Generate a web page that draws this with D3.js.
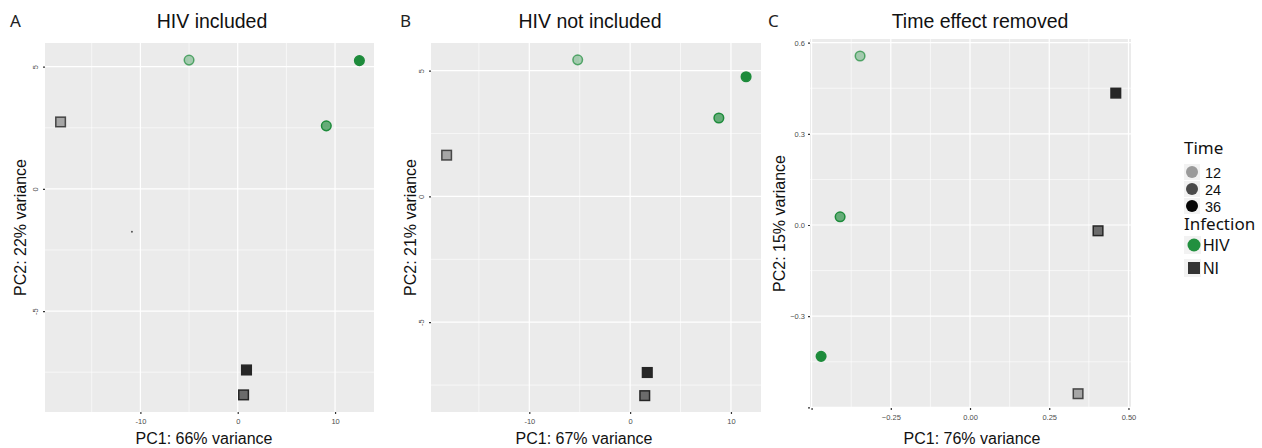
<!DOCTYPE html>
<html>
<head>
<meta charset="utf-8">
<script src="https://cdn.jsdelivr.net/npm/d3@7"></script>
<style>
  body { margin: 0; background: #fff; }
  svg { display: block; }
</style>
</head>
<body>
<div id="chart"></div>
<script>
// samples: HIV 12/24/36 h, NI 12/24/36 h
const sampleTime = [12, 24, 36, 12, 24, 36];
const sampleInfection = ["HIV", "HIV", "HIV", "NI", "NI", "NI"];

const timeLevels = ["12", "24", "36"];
const infectionLevels = ["HIV", "NI"];

// panel A - HIV included
const pcaA_pc1 = [-5.0, 9.1, 12.5, -18.2, 0.6, 0.9];
const pcaA_pc2 = [5.27, 2.58, 5.25, 2.74, -8.43, -7.41];
const strayA = [[-10.87, -1.75]];

// panel B - HIV not included
const pcaB_pc1 = [-5.2, 8.8, 11.5, -18.2, 1.45, 1.7];
const pcaB_pc2 = [5.43, 3.12, 4.76, 1.64, -7.92, -7.0];

// panel C - time effect removed
const pcaC_pc1 = [-0.347, -0.41, -0.47, 0.341, 0.404, 0.46];
const pcaC_pc2 = [0.556, 0.027, -0.432, -0.555, -0.019, 0.434];

const HIV_GREEN = "#1d8b3b";
const NI_GREY = "#262626";
const timeAlpha = { 12: 0.35, 24: 0.65, 36: 1 };

const width = 1262, height = 448;

const svg = d3.select("#chart").append("svg")
  .attr("width", width)
  .attr("height", height);

const panels = [
  {
    letter: "A", title: "HIV included", pc1: pcaA_pc1, pc2: pcaA_pc2, stray: strayA,
    xDomain: [-19.8, 14.0], yDomain: [-9.13, 5.97],
    x0: 45, x1: 374, y0: 43, y1: 412,
    xMajor: [-10, 0, 10], xMinor: [-15, -5, 5],
    yMajor: [-5, 0, 5], yMinor: [-7.5, -2.5, 2.5],
    xFmt: (d) => String(d), yFmt: (d) => String(d), yRotate: true,
    xLabel: "PC1: 66% variance", yLabel: "PC2: 22% variance",
    letterX: 10, titleX: 212, xLabelX: 204, yLabelX: 20
  },
  {
    letter: "B", title: "HIV not included", pc1: pcaB_pc1, pc2: pcaB_pc2, stray: [],
    xDomain: [-19.75, 12.98], yDomain: [-8.57, 6.1],
    x0: 431, x1: 761, y0: 43, y1: 412,
    xMajor: [-10, 0, 10], xMinor: [-15, -5, 5],
    yMajor: [-5, 0, 5], yMinor: [-7.5, -2.5, 2.5],
    xFmt: (d) => String(d), yFmt: (d) => String(d), yRotate: true,
    xLabel: "PC1: 67% variance", yLabel: "PC2: 21% variance",
    letterX: 400, titleX: 590, xLabelX: 584, yLabelX: 410
  },
  {
    letter: "C", title: "Time effect removed", pc1: pcaC_pc1, pc2: pcaC_pc2, stray: [],
    xDomain: [-0.505, 0.508], yDomain: [-0.602, 0.612],
    x0: 810, x1: 1131, y0: 39, y1: 408,
    xMajor: [-0.5, -0.25, 0, 0.25, 0.5], xMinor: [-0.375, -0.125, 0.125, 0.375],
    yMajor: [-0.6, -0.3, 0, 0.3, 0.6], yMinor: [-0.45, -0.15, 0.15, 0.45],
    xFmt: (d) => (d === -0.5 ? "" : d3.format(".2f")(d).replace("-", "\u2212")),
    yFmt: (d) => (d === -0.6 ? "" : d3.format(".1f")(d).replace("-", "\u2212")),
    yRotate: false,
    xLabel: "PC1: 76% variance", yLabel: "PC2: 15% variance",
    letterX: 768, titleX: 980, xLabelX: 972, yLabelX: 779
  }
];

panels.forEach(drawPanel);
drawLegend();

function drawPanel(p) {
  const x = d3.scaleLinear().domain(p.xDomain).range([p.x0, p.x1]);
  const y = d3.scaleLinear().domain(p.yDomain).range([p.y1, p.y0]);
  const g = svg.append("g");

  // panel background
  g.append("rect")
    .attr("x", p.x0).attr("y", p.y0)
    .attr("width", p.x1 - p.x0).attr("height", p.y1 - p.y0)
    .attr("fill", "#ebebeb");

  // gridlines
  const grid = g.append("g").attr("stroke", "#fff");
  grid.selectAll(".vminor").data(p.xMinor).join("line")
    .attr("x1", (d) => x(d)).attr("x2", (d) => x(d))
    .attr("y1", p.y0).attr("y2", p.y1).attr("stroke-width", 0.6);
  grid.selectAll(".hminor").data(p.yMinor).join("line")
    .attr("y1", (d) => y(d)).attr("y2", (d) => y(d))
    .attr("x1", p.x0).attr("x2", p.x1).attr("stroke-width", 0.6);
  grid.selectAll(".vmajor").data(p.xMajor).join("line")
    .attr("x1", (d) => x(d)).attr("x2", (d) => x(d))
    .attr("y1", p.y0).attr("y2", p.y1).attr("stroke-width", 1.2);
  grid.selectAll(".hmajor").data(p.yMajor).join("line")
    .attr("y1", (d) => y(d)).attr("y2", (d) => y(d))
    .attr("x1", p.x0).attr("x2", p.x1).attr("stroke-width", 1.2);

  // axes
  const xAxis = g.append("g")
    .attr("transform", `translate(0,${p.y1})`)
    .call(d3.axisBottom(x).tickValues(p.xMajor).tickFormat(p.xFmt).tickSize(2).tickPadding(5));
  const yAxis = g.append("g")
    .attr("transform", `translate(${p.x0},0)`)
    .call(d3.axisLeft(y).tickValues(p.yMajor).tickFormat(p.yFmt).tickSize(2).tickPadding(3));

  [xAxis, yAxis].forEach((a) => {
    a.select(".domain").remove();
    a.selectAll(".tick line").attr("stroke", "#333").attr("stroke-width", 1.2);
    a.selectAll("text")
      .attr("fill", "#4d4d4d")
      .attr("font-family", "Liberation Sans, Arial, sans-serif")
      .attr("font-size", 7.5);
  });

  if (p.yRotate) {
    yAxis.selectAll(".tick text")
      .attr("x", null).attr("dy", null)
      .attr("text-anchor", "middle")
      .attr("transform", "translate(-7,0) rotate(-90)");
  }

  // stray mark
  g.selectAll(".stray").data(p.stray).join("circle")
    .attr("cx", (d) => x(d[0])).attr("cy", (d) => y(d[1]))
    .attr("r", 1).attr("fill", "#555");

  // samples
  const samples = p.pc1.map((v, i) => ({
    pc1: v, pc2: p.pc2[i], time: sampleTime[i], infection: sampleInfection[i]
  }));

  const pts = g.append("g");
  samples.forEach((d) => {
    const cx = x(d.pc1), cy = y(d.pc2);
    const a = timeAlpha[d.time];
    if (d.infection === "HIV") {
      pts.append("circle")
        .attr("cx", cx).attr("cy", cy).attr("r", 4.8)
        .attr("fill", HIV_GREEN).attr("fill-opacity", a)
        .attr("stroke", HIV_GREEN).attr("stroke-opacity", Math.min(1, a + 0.35))
        .attr("stroke-width", 1.5);
    } else {
      pts.append("rect")
        .attr("x", cx - 4.8).attr("y", cy - 4.8)
        .attr("width", 9.6).attr("height", 9.6)
        .attr("fill", NI_GREY).attr("fill-opacity", a)
        .attr("stroke", NI_GREY).attr("stroke-opacity", Math.min(1, a + 0.45))
        .attr("stroke-width", 1.5);
    }
  });

  // panel letter + title
  svg.append("text")
    .attr("x", p.letterX).attr("y", 27)
    .attr("font-family", "Noto Sans, sans-serif")
    .attr("font-size", 17).attr("fill", "#222")
    .text(p.letter);
  svg.append("text")
    .attr("x", p.titleX).attr("y", 28)
    .attr("text-anchor", "middle")
    .attr("font-family", "Liberation Sans, Arial, sans-serif")
    .attr("font-size", 19.5).attr("fill", "#111")
    .text(p.title);

  // axis titles
  svg.append("text")
    .attr("x", p.xLabelX).attr("y", 444)
    .attr("text-anchor", "middle")
    .attr("font-family", "Liberation Sans, Arial, sans-serif")
    .attr("font-size", 16).attr("fill", "#111")
    .text(p.xLabel);
  svg.append("text")
    .attr("transform", `translate(${p.yLabelX + 6},${(p.y0 + p.y1) / 2}) rotate(-90)`)
    .attr("text-anchor", "middle")
    .attr("font-family", "Liberation Sans, Arial, sans-serif")
    .attr("font-size", 16).attr("fill", "#111")
    .text(p.yLabel);
}

function drawLegend() {
  const lg = svg.append("g").attr("font-family", "Liberation Sans, Arial, sans-serif");
  const kx = 1192;

  lg.append("text").attr("x", 1184).attr("y", 154)
    .attr("font-family", "Noto Sans, sans-serif")
    .attr("font-size", 17).attr("fill", "#111").text("Time");

  const timeGrey = d3.scaleOrdinal().domain(timeLevels).range(["#9a9a9a", "#4a4a4a", "#050505"]);
  const ty = d3.scalePoint().domain(timeLevels).range([172, 206]);
  timeLevels.forEach((t) => {
    lg.append("rect").attr("x", kx - 8).attr("y", ty(t) - 8).attr("width", 16).attr("height", 16)
      .attr("fill", "#f2f2f2");
    lg.append("circle").attr("cx", kx).attr("cy", ty(t)).attr("r", 6).attr("fill", timeGrey(t));
    lg.append("text").attr("x", kx + 13).attr("y", ty(t) + 5.5)
      .attr("font-size", 14.5).attr("fill", "#111").text(t);
  });

  lg.append("text").attr("x", 1184).attr("y", 230)
    .attr("font-family", "Noto Sans, sans-serif")
    .attr("font-size", 17).attr("fill", "#111").text("Infection");

  const iy = d3.scalePoint().domain(infectionLevels).range([245, 268]);
  infectionLevels.forEach((k) => {
    lg.append("rect").attr("x", kx - 8).attr("y", iy(k) - 9).attr("width", 17).attr("height", 18)
      .attr("fill", "#f2f2f2");
    if (k === "HIV") {
      lg.append("circle").attr("cx", kx + 2).attr("cy", iy(k)).attr("r", 6.5).attr("fill", "#22903f");
    } else {
      lg.append("rect").attr("x", kx - 4).attr("y", iy(k) - 6).attr("width", 12).attr("height", 12)
        .attr("fill", "#333");
    }
    lg.append("text").attr("x", kx + 11).attr("y", iy(k) + 6)
      .attr("font-size", 16).attr("fill", "#111").text(k);
  });
}
</script>
</body>
</html>
